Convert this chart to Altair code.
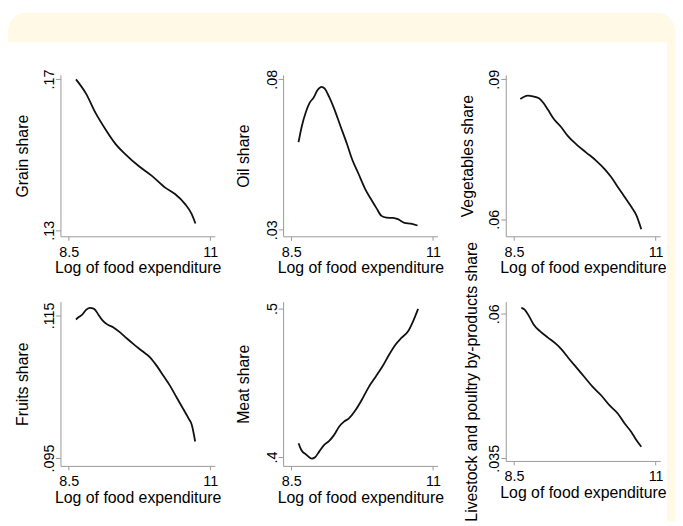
import altair as alt
import pandas as pd

X_TITLE = "Log of food expenditure"
X_TICKS = [8.5, 11]

grain_x = [8.629, 8.804, 8.979, 9.154, 9.329, 9.503, 9.736, 9.969, 10.203, 10.378, 10.552, 10.668, 10.738]
grain_y = [0.1699, 0.1662, 0.1609, 0.1566, 0.1528, 0.1501, 0.1470, 0.1444, 0.1413, 0.1396, 0.1370, 0.1344, 0.1318]

oil_x = [8.627, 8.685, 8.760, 8.818, 8.894, 8.963, 9.032, 9.090, 9.166, 9.252, 9.368, 9.484,
         9.571, 9.686, 9.802, 9.918, 10.005, 10.091, 10.178, 10.294, 10.381, 10.497, 10.612, 10.728]
oil_y = [0.0591, 0.0644, 0.0693, 0.0720, 0.0739, 0.0764, 0.0775, 0.0769, 0.0742, 0.0704, 0.0644, 0.0584,
         0.0535, 0.0486, 0.0436, 0.0398, 0.0371, 0.0346, 0.0340, 0.0339, 0.0335, 0.0323, 0.0320, 0.0314]

veg_x = [8.612, 8.671, 8.747, 8.835, 8.941, 9.024, 9.100, 9.200, 9.335, 9.453, 9.600, 9.776,
         9.953, 10.100, 10.218, 10.335, 10.453, 10.571, 10.659, 10.747]
veg_y = [0.08577, 0.08620, 0.08648, 0.08634, 0.08592, 0.08486, 0.08345, 0.08155, 0.07972, 0.07782,
         0.07606, 0.07430, 0.07254, 0.07077, 0.06901, 0.06690, 0.06479, 0.06268, 0.06092, 0.05789]

fruit_x = [8.628, 8.686, 8.744, 8.802, 8.872, 8.948, 9.023, 9.093, 9.180, 9.297, 9.413, 9.529,
           9.645, 9.791, 9.936, 10.052, 10.169, 10.285, 10.401, 10.517, 10.616, 10.674, 10.733]
fruit_y = [0.11444, 0.11481, 0.11514, 0.11574, 0.11606, 0.11593, 0.11514, 0.11435, 0.11375, 0.11329,
           0.11259, 0.11176, 0.11097, 0.11005, 0.10912, 0.10796, 0.10657, 0.10519, 0.10356, 0.10194,
           0.10056, 0.09963, 0.09731]

meat_x = [8.628, 8.674, 8.762, 8.860, 8.919, 8.994, 9.081, 9.169, 9.256, 9.343, 9.430, 9.517,
          9.634, 9.750, 9.866, 9.983, 10.099, 10.215, 10.331, 10.448, 10.564, 10.651, 10.738]
meat_y = [0.4093, 0.4049, 0.4016, 0.3989, 0.3998, 0.4038, 0.4082, 0.4109, 0.4149, 0.4204, 0.4238, 0.4260,
          0.4316, 0.4389, 0.4471, 0.4538, 0.4604, 0.4682, 0.4753, 0.4804, 0.4849, 0.4916, 0.4998]

live_x = [8.629, 8.688, 8.765, 8.847, 8.953, 9.100, 9.247, 9.335, 9.453, 9.600, 9.747, 9.894,
          10.041, 10.188, 10.335, 10.453, 10.571, 10.659, 10.747]
live_y = [0.06103, 0.06074, 0.05960, 0.05817, 0.05703, 0.05588, 0.05474, 0.05388, 0.05245, 0.05073,
          0.04902, 0.04730, 0.04587, 0.04415, 0.04272, 0.04101, 0.03957, 0.03815, 0.03700]

titles = ["Grain share", "Oil share", "Vegetables share", "Fruits share", "Meat share",
          "Livestock and poultry by-products share"]
xs = [grain_x, oil_x, veg_x, fruit_x, meat_x, live_x]
ys = [grain_y, oil_y, veg_y, fruit_y, meat_y, live_y]
y_ticks = [[0.13, 0.17], [0.03, 0.08], [0.06, 0.09], [0.095, 0.115], [0.4, 0.5], [0.035, 0.06]]
y_domains = [[0.12843, 0.17105], [0.02781, 0.08141], [0.05637, 0.09091],
             [0.09389, 0.11694], [0.394, 0.50467], [0.03454, 0.06211]]
heights = [163, 163, 163, 166, 166, 161]
title_offsets = [-33, -35, -34, -33, -35, -30]

FONT = "Liberation Sans"
W = 156
X_DOMAIN = [8.355, 11.08]


def make_panel(i):
    df = pd.DataFrame({"x": xs[i], "y": ys[i]})
    h = heights[i]
    line = alt.Chart(df).mark_line(color="#111111", strokeWidth=1.8, interpolate="monotone").encode(
        x=alt.X("x:Q",
                scale=alt.Scale(domain=X_DOMAIN, nice=False, zero=False),
                axis=alt.Axis(values=X_TICKS, title=X_TITLE, labelExpr="toString(datum.value)",
                              labelPadding=5, titleY=36.5, titleBaseline="alphabetic", zindex=1)),
        y=alt.Y("y:Q",
                scale=alt.Scale(domain=y_domains[i], nice=False, zero=False),
                axis=alt.Axis(values=y_ticks[i], title=titles[i],
                              labelExpr="replace(toString(datum.value), '0.', '.')",
                              labelAngle=270, labelAlign="center", labelBaseline="alphabetic",
                              labelPadding=2, tickSize=5, titleAngle=270, titleAlign="center",
                              titleBaseline="alphabetic", titleX=title_offsets[i], titleY=h / 2,
                              zindex=1)),
    )
    if i == 0:
        bg = pd.DataFrame({"k": [0]})
        cream = alt.Chart(bg).mark_rect(color="#FFF9E6", cornerRadiusTopLeft=18,
                                        cornerRadiusTopRight=18).encode(
            x=alt.value(-53), x2=alt.value(621), y=alt.value(-63), y2=alt.value(451))
        white = alt.Chart(bg).mark_rect(color="#FFFFFF").encode(
            x=alt.value(-53), x2=alt.value(613), y=alt.value(-33), y2=alt.value(451))
        return alt.layer(cream, white, line).properties(width=W, height=h)
    return line.properties(width=W, height=h)


panels = [make_panel(i) for i in range(6)]

chart = alt.concat(
    *panels, columns=3, spacing={"row": 66, "column": 69}, bounds="flush", align="each"
).properties(
    padding={"left": 0, "top": 2, "right": 0, "bottom": 0},
    background="white",
).configure_view(
    stroke=None
).configure_axis(
    domainColor="#9a9a9a", tickColor="#9a9a9a", domainWidth=1, tickWidth=1, tickSize=4,
    labelFont=FONT, labelFontSize=14.5, labelColor="#000000",
    titleFont=FONT, titleFontSize=16, titleFontWeight="normal", titleColor="#000000",
    grid=False, labelFlush=False, labelOverlap=False,
)

chart.save("out.html", embed_options={"renderer": "svg", "actions": False})
